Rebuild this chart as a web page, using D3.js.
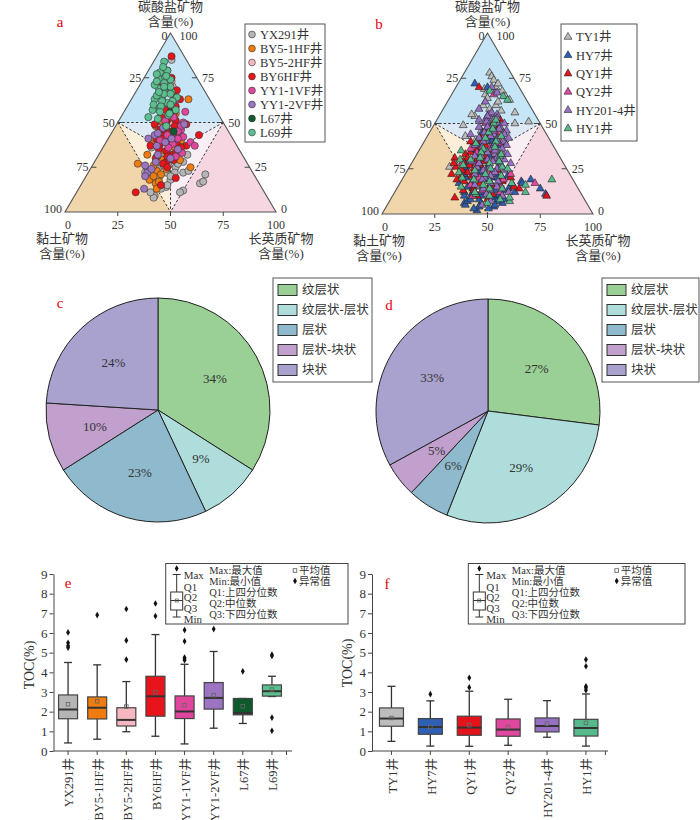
<!DOCTYPE html>
<html>
<head>
<meta charset="utf-8">
<script src="https://cdn.jsdelivr.net/npm/d3@7"></script>
<style>
  body { margin: 0; background: #fff; }
  svg { display: block; }
</style>
</head>
<body>
<svg width="700" height="820"></svg>
<script>
// ---- a: ternary, shale wells (values are [carbonate %, clay %], felsic = rest)
const wellsA = ['YX291井', 'BY5-1HF井', 'BY5-2HF井', 'BY6HF井', 'YY1-1VF井', 'YY1-2VF井', 'L67井', 'L69井'];
const ptsYX291 = [[85,7],[21,23],[16,28],[17,26],[9,53],[8,54],[11,54],[12,38],[11,40],[22,51],[19,46],[22,41],[25,35],[18,41],[22,33],[26,41],[36,41],[34,30],[32,26],[28,30],[14,45],[30,38],[40,33],[22,37],
  [29,35],[26,38],[24,44],[20,40],[15,44],[13,48],[27,33],[23,30]];
const ptsBY51HF = [[63,10],[27,52],[25,28],[16,49],[32,45],[23,45],[35,36],[47,26],[40,25],[49,30],[53,25],[40,38],[18,51],[29,39],[29,31],[44,32],[36,30],[21,44],[55,20],
  [51,29],[48,33],[45,30],[43,35],[38,40],[34,38],[31,41],[26,45],[24,40],[20,48],[17,47],[13,50]];
const ptsBY52HF = [[73,13],[46,27],[37,34],[47,32],[35,28],[70,14],[42,29],[50,24],[44,28],[39,34],[33,33]];
const ptsBY6HF = [[87,6],[68,13],[43,15],[11,61],[15,47],[61,19],[57,24],[63,14],[49,33],[43,33],[40,31],[44,24],[37,24],[35,38],[32,33],[37,41],[51,22],[53,28],[49,18],[28,38],[19,38],[71,19],[75,12],[46,29],[41,36],[38,28],[34,35],[55,21],[30,42],[59,18],[65,16],[47,22],
  [52,25],[50,27],[48,24],[46,32],[45,27],[44,29],[42,26],[41,33],[39,30],[38,36],[36,27],[33,31],[31,36],[29,34],[27,40],[25,39]];
const ptsYY11VF = [[63,16],[56,15],[39,21],[37,20],[46,22],[51,27],[40,28],[40,35],[67,17],[50,19],[44,27],[34,29],[58,20],[42,23],
  [53,22],[48,21],[45,24],[43,30],[41,26],[38,30],[36,33],[33,28],[31,32]];
const ptsYY12VF = [[79,12],[49,19],[26,49],[22,50],[13,56],[43,36],[41,29],[60,24],[35,29],[41,40],[48,28],[30,35],
  [47,30],[44,34],[39,33],[37,38],[32,40],[28,43],[24,47],[20,52]];
const ptsL67 = [[56,22],[45,26]];
const ptsL69 = [[84,11],[74,18],[75,15],[74,13],[69,21],[68,19],[67,16],[63,26],[64,22],[61,21],[64,15],[53,34],[58,26],[72,17],[65,24],[70,15],[57,19],[57,30],[54,24],[78,16],[79,12],[48,28],[66,20],[71,22],[60,28],[76,14],[62,18],
  [73,20],[70,18],[67,22],[66,17],[62,23],[60,20],[59,25],[56,27],[55,23],[52,30],[81,13],[77,18]];

// ---- b: ternary, second set of wells
const wellsB = ['TY1井', 'HY7井', 'QY1井', 'QY2井', 'HY201-4井', 'HY1井'];
const ptsTY1 = [[78,10],[76,10],[74,10],[69,17],[66,18],[70,11],[72,9],[68,9],[65,9],[63,8],[56,9],[54,29],[55,30],[49,37],[43,39],[51,5],[58,20],[60,16],[62,14],[57,15],[52,22],[47,26],[45,20],[40,30],[36,28],[33,35],[26,55],[28,38],[22,42],[15,40],[12,45],[50,12],[60,22],[64,18],
  [46,30],[41,35],[30,44],[20,46],[17,49]];
const ptsHY7 = [[72,20],[70,15],[19,20],[14,18],[11,17],[18,25],[17,25],[12,31],[6,58],[5,58],[2,54],[4,45],[6,40],[45,30],[40,35],[38,25],[35,40],[30,45],[28,30],[25,48],[22,35],[20,50],[18,44],[15,52],[12,55],[10,48],[8,50],[9,42],[13,36],[16,30],[25,40],[32,33],[42,27],[48,24],[3,48],[7,56],[20,38],
  [30,38],[28,42],[27,36],[26,47],[24,38],[23,42],[22,50],[21,30],[20,35],[19,40],[18,48],[17,55],[16,36],[15,45],[14,50],[13,40],[12,47],[11,52],[10,40],[10,56],[9,45],[8,54],[7,42],[6,50],[5,44],[4,52],[3,55],[8,38],[14,33],[35,32],[40,28],[45,25],[33,38],[38,35]];
const ptsQY1 = [[70,19],[31,50],[22,56],[9,61],[10,17],[44,30],[40,38],[35,30],[30,40],[27,45],[24,33],[21,47],[18,52],[16,40],[13,50],[11,42],[8,46],[26,52],[33,44],[38,32],[20,29],[14,28],[47,27],[52,18],[18,34],[29,37],
  [40,33],[36,37],[34,41],[31,44],[29,47],[27,40],[25,44],[23,48],[21,52],[19,55],[17,45],[15,49],[13,55],[12,44],[10,50],[24,50],[28,52],[32,35],[20,33],[15,30],[44,27],[48,22]];
const ptsQY2 = [[17,19],[66,14],[45,22],[37,30],[30,32],[25,37],[20,44],[15,36],[12,38],[22,28],[34,38],[42,24],[50,26],[10,52],[28,48],
  [48,25],[43,30],[39,25],[32,30],[27,42],[23,38],[19,33],[16,50],[13,46],[36,40]];
const ptsHY2014 = [[70,13],[67,12],[62,20],[58,25],[55,22],[52,28],[50,20],[48,30],[46,18],[44,25],[42,33],[40,22],[38,37],[36,30],[34,26],[32,40],[30,35],[28,25],[26,42],[24,30],[22,37],[20,41],[18,36],[14,45],[12,34],[10,38],[7,45],[5,50],[44,36],[38,28],[33,30],[29,43],[53,24],[48,20],[41,30],
  [56,20],[55,18],[54,23],[53,19],[52,21],[51,25],[50,17],[49,23],[48,26],[47,21],[46,24],[45,29],[44,20],[43,27],[42,19],[41,25],[40,32],[39,27],[38,22],[37,34],[36,25],[35,29],[34,33],[33,24],[32,37],[31,30],[30,27],[29,33],[28,40],[27,30],[26,36],[25,33],[24,40],[23,35],[22,45],[21,38],[19,43],[17,40],[16,48],[15,38],[13,42],[11,45]];
const ptsHY1 = [[65,10],[63,9],[19,10],[7,36],[68,15],[45,27],[40,26],[36,34],[32,28],[28,35],[24,44],[21,33],[19,47],[17,30],[14,42],[11,50],[9,35],[16,24],[26,30],[35,45],[50,22],[30,48],[6,47],[12,26],[23,52],
  [52,20],[47,24],[42,30],[39,36],[37,28],[34,36],[31,38],[29,30],[27,48],[25,36],[22,40],[20,52],[18,40],[16,44],[14,36],[12,50],[10,44],[8,40],[25,28],[33,27],[43,22],[30,43],[15,55]];

const ternTicks = [0, 25, 50, 75, 100];

// ---- c, d: pies
const facies = ['纹层状', '纹层状-层状', '层状', '层状-块状', '块状'];
const pieC = [34, 9, 23, 10, 24];
const pieD = [27, 29, 6, 5, 33];

// ---- e: TOC box plot
const boxWellsE = ['YX291井', 'BY5-1HF井', 'BY5-2HF井', 'BY6HF井', 'YY1-1VF井', 'YY1-2VF井', 'L67井', 'L69井'];
const minE = [0.41, 0.6, 0.98, 0.75, 0.36, 1.16, 1.4, 2.77];
const q1E = [1.64, 1.63, 1.27, 1.77, 1.65, 2.13, 1.84, 2.79];
const medE = [2.11, 2.2, 1.58, 2.78, 2.01, 2.7, 1.93, 3.04];
const q3E = [2.85, 2.75, 2.2, 3.8, 2.8, 3.48, 2.67, 3.36];
const maxE = [4.5, 4.38, 3.53, 5.92, 4.41, 5.06, 2.67, 3.8];
const meanE = [2.38, 2.53, 2.26, 2.98, 2.33, 2.84, 2.27, 3.12];
const outE = [[6.03, 5.5, 5.35, 5.26], [6.91], [7.22, 5.62, 4.65], [7.5, 6.86], [6.15, 5.58, 4.75, 4.68, 4.62], [6.2], [4.05], [4.9, 4.83, 1.7, 1.03]];

// ---- f: TOC box plot
const boxWellsF = ['TY1井', 'HY7井', 'QY1井', 'QY2井', 'HY201-4井', 'HY1井'];
const minF = [0.49, 0.25, 0.24, 0.29, 0.7, 0.25];
const q1F = [1.26, 0.85, 0.8, 0.75, 0.97, 0.76];
const medF = [1.65, 1.22, 1.19, 1.09, 1.27, 1.17];
const q3F = [2.19, 1.65, 1.77, 1.63, 1.68, 1.61];
const maxF = [3.29, 2.55, 3.04, 2.63, 2.56, 2.9];
const meanF = [1.68, 1.22, 1.31, 1.22, 1.39, 1.43];
const outF = [[], [2.89], [3.72, 3.23], [], [], [4.65, 4.31, 3.29, 3.21, 3.09]];
const tocTicks = [0, 1, 2, 3, 4, 5, 6, 7, 8, 9];

// colours
const colorsA = ['#b5b5b5', '#f07c0f', '#f6b7c0', '#e8141c', '#e0479c', '#9b74c2', '#0f5a2c', '#5cbf90'];
const colorsB = ['#bdbdbd', '#2f5fb3', '#e3121b', '#e0479e', '#9770c4', '#55b98b'];
const pieColors = ['#9ad096', '#aedddc', '#8fb9cc', '#c1a0cd', '#a9a2cf'];

const FONT = '"Liberation Serif", "Noto Sans CJK SC", serif';
const TXT = '#333';
const svg = d3.select('svg').style('font-family', FONT);

function label(g, x, y, text, size, anchor, color) {
  return g.append('text')
    .attr('x', x).attr('y', y).attr('dy', '0.35em')
    .attr('text-anchor', anchor || 'middle')
    .attr('font-size', size)
    .attr('fill', color || TXT)
    .text(text);
}

function drawTernary(geo, series, colors, names, marker, leg) {
  const g = svg.append('g');
  const xs = d3.scaleLinear().domain([-100, 100]).range([geo.lx, geo.rx]);
  const ys = d3.scaleLinear().domain([100, 0]).range([geo.ay, geo.by]);
  // carb, clay -> pixel
  const pt = (carb, clay) => [xs((100 - carb - clay) - clay), ys(carb)];

  const A = pt(100, 0), BL = pt(0, 100), BR = pt(0, 0);
  const L = pt(50, 50), R = pt(50, 0), B = pt(0, 50), C = pt(100 / 3, 100 / 3);
  const regions = [
    { p: [A, L, R], fill: '#c6e6f7' },
    { p: [L, R, C], fill: '#dde9f5' },
    { p: [L, C, B], fill: '#fcefd9' },
    { p: [R, C, B], fill: '#f8eef3' },
    { p: [L, BL, B], fill: '#f1d6ab' },
    { p: [R, B, BR], fill: '#f6d6e0' }
  ];
  g.selectAll('.region').data(regions).enter().append('polygon')
    .attr('points', d => d.p.map(q => q.join(',')).join(' '))
    .attr('fill', d => d.fill);

  // dashed class boundaries
  g.selectAll('.dash').data([[L, R], [L, B], [R, B], [L, C], [R, C], [C, B]]).enter().append('line')
    .attr('x1', d => d[0][0]).attr('y1', d => d[0][1])
    .attr('x2', d => d[1][0]).attr('y2', d => d[1][1])
    .attr('stroke', '#222').attr('stroke-width', 0.9).attr('stroke-dasharray', '2.5,2');

  g.append('polygon')
    .attr('points', [A, BL, BR].map(q => q.join(',')).join(' '))
    .attr('fill', 'none').attr('stroke', '#555').attr('stroke-width', 1.1);

  // ticks and tick labels
  ternTicks.forEach(v => {
    const l = pt(100 - v, v), r = pt(v, 0), b = pt(0, 100 - v);
    if (v > 0 && v < 100) {
      g.append('line').attr('x1', l[0]).attr('y1', l[1]).attr('x2', l[0] + 5).attr('y2', l[1]).attr('stroke', '#444');
      g.append('line').attr('x1', r[0] - 5).attr('y1', r[1]).attr('x2', r[0]).attr('y2', r[1]).attr('stroke', '#444');
      g.append('line').attr('x1', b[0]).attr('y1', b[1]).attr('x2', b[0]).attr('y2', b[1] + 4).attr('stroke', '#444');
    }
    const dyL = v === 0 ? 3 : (v === 100 ? -3 : 0);
    const dyR = v === 100 ? 3 : (v === 0 ? -3 : 0);
    label(g, l[0] - 3, l[1] + dyL, v, 12, 'end');
    label(g, r[0] + 5 + (v === 100 ? 4 : 0), r[1] + dyR, v, 12, 'start');
    label(g, b[0] + (v === 0 ? 3 : 0), b[1] + 13, v, 12, 'middle');
  });

  // axis titles
  label(g, A[0], geo.ay - 27, '碳酸盐矿物', 13);
  label(g, A[0], geo.ay - 12, '含量(%)', 13);
  label(g, BL[0] - 3, geo.by + 26, '黏土矿物', 13);
  label(g, BL[0] - 3, geo.by + 41, '含量(%)', 13);
  label(g, BR[0] + 5, geo.by + 26, '长英质矿物', 13);
  label(g, BR[0] + 5, geo.by + 41, '含量(%)', 13);

  // samples
  const sym = d3.symbol().type(d3.symbolTriangle).size(27);
  series.forEach((pts, i) => {
    const sel = g.append('g').selectAll('.pt').data(pts).enter();
    if (marker === 'circle') {
      sel.append('circle')
        .attr('cx', d => pt(d[0], d[1])[0]).attr('cy', d => pt(d[0], d[1])[1])
        .attr('r', 3.6).attr('fill', colors[i])
        .attr('stroke', '#333').attr('stroke-width', 0.6);
    } else {
      sel.append('path').attr('d', sym)
        .attr('transform', d => `translate(${pt(d[0], d[1])})`)
        .attr('fill', colors[i])
        .attr('stroke', '#222').attr('stroke-width', 0.6);
    }
  });

  // legend
  const lg = g.append('g');
  lg.append('rect').attr('x', leg.x).attr('y', leg.y).attr('width', leg.w).attr('height', leg.h)
    .attr('fill', '#fff').attr('stroke', '#555').attr('stroke-width', 1);
  names.forEach((n, i) => {
    const cy = leg.y0 + i * leg.step;
    if (marker === 'circle') {
      lg.append('circle').attr('cx', leg.x + 7).attr('cy', cy).attr('r', 3.4)
        .attr('fill', colors[i]).attr('stroke', '#333').attr('stroke-width', 0.6);
    } else {
      lg.append('path').attr('d', sym).attr('transform', `translate(${leg.x + 7},${cy})`)
        .attr('fill', colors[i]).attr('stroke', '#222').attr('stroke-width', 0.6);
    }
    label(lg, leg.x + 15, cy, n, 12.5, 'start');
  });
}

function drawPie(cx, cy, values, leg) {
  const g = svg.append('g').attr('transform', `translate(${cx},${cy})`);
  const pie = d3.pie().sort(null).value(d => d);
  const arc = d3.arc().innerRadius(0).outerRadius(112);
  const labelArc = d3.arc().innerRadius(65).outerRadius(65);
  const arcs = pie(values);
  g.selectAll('path').data(arcs).enter().append('path')
    .attr('d', arc)
    .attr('fill', (d, i) => pieColors[i])
    .attr('stroke', '#222').attr('stroke-width', 1);
  g.selectAll('.pl').data(arcs).enter().append('text')
    .attr('transform', d => `translate(${labelArc.centroid(d)})`)
    .attr('dy', '0.35em').attr('text-anchor', 'middle')
    .attr('font-size', 13).attr('fill', TXT)
    .text(d => d.data + '%');

  const lg = svg.append('g');
  lg.append('rect').attr('x', leg.x).attr('y', 278).attr('width', leg.w).attr('height', 104)
    .attr('fill', '#fff').attr('stroke', '#555');
  facies.forEach((f, i) => {
    const y = 290 + i * 20;
    lg.append('rect').attr('x', leg.x + 5).attr('y', y - 5.5).attr('width', 19).attr('height', 11)
      .attr('fill', pieColors[i]).attr('stroke', '#333').attr('stroke-width', 1);
    label(lg, leg.x + 29, y, f, 12.5, 'start');
  });
}

function drawBoxes(p) {
  const g = svg.append('g');
  const y = d3.scaleLinear().domain([0, 9]).range([751, 574]);
  const x = d3.scaleBand().domain(p.wells).range([p.x0, p.x1]);

  // y axis
  const ya = g.append('g').attr('transform', `translate(${p.x0},0)`)
    .call(d3.axisLeft(y).tickValues(tocTicks).tickSize(4).tickSizeOuter(0).tickPadding(2));
  ya.selectAll('text').attr('font-size', 13).attr('fill', TXT).style('font-family', FONT);
  ya.selectAll('line, path').attr('stroke', '#444');

  // x axis
  g.append('line').attr('x1', p.x0).attr('x2', p.axisEnd).attr('y1', 751).attr('y2', 751).attr('stroke', '#444');
  const xa = g.append('g').attr('transform', 'translate(0,751)')
    .call(d3.axisBottom(x).tickSize(4).tickFormat(''));
  xa.select('.domain').remove();
  xa.selectAll('line').attr('stroke', '#444');
  g.append('line').attr('x1', p.x1).attr('x2', p.x1).attr('y1', 751).attr('y2', 755).attr('stroke', '#444');
  p.wells.forEach(w => {
    g.append('text')
      .attr('transform', `translate(${x(w) + x.bandwidth() / 2 + 1},758) rotate(-90)`)
      .attr('dy', '0.35em').attr('text-anchor', 'end')
      .attr('font-size', 12.5).attr('fill', TXT).text(w);
  });

  g.append('text').attr('transform', `translate(${p.x0 - 20},${p.labelY}) rotate(-90)`)
    .attr('text-anchor', 'middle').attr('font-size', 14).attr('fill', TXT).text('TOC(%)');

  const dia = d3.symbol().type(d3.symbolDiamond).size(13);
  p.wells.forEach((w, i) => {
    const cx = x(w) + x.bandwidth() / 2;
    const hw = p.boxW / 2;
    // whiskers
    g.append('line').attr('x1', cx).attr('x2', cx).attr('y1', y(p.max[i])).attr('y2', y(p.q3[i])).attr('stroke', '#333').attr('stroke-width', 1.3);
    g.append('line').attr('x1', cx).attr('x2', cx).attr('y1', y(p.q1[i])).attr('y2', y(p.min[i])).attr('stroke', '#333').attr('stroke-width', 1.3);
    [p.max[i], p.min[i]].forEach(v => {
      g.append('line').attr('x1', cx - 4).attr('x2', cx + 4).attr('y1', y(v)).attr('y2', y(v)).attr('stroke', '#333').attr('stroke-width', 1.3);
    });
    g.append('rect').attr('x', cx - hw).attr('y', y(p.q3[i])).attr('width', p.boxW)
      .attr('height', y(p.q1[i]) - y(p.q3[i]))
      .attr('fill', p.colors[i]).attr('stroke', '#444').attr('stroke-width', 1.2);
    g.append('line').attr('x1', cx - hw).attr('x2', cx + hw).attr('y1', y(p.med[i])).attr('y2', y(p.med[i]))
      .attr('stroke', '#333').attr('stroke-width', 2);
    g.append('rect').attr('x', cx - 1.8).attr('y', y(p.mean[i]) - 1.8).attr('width', 3.6).attr('height', 3.6)
      .attr('fill', 'none').attr('stroke', '#666').attr('stroke-width', 0.8);
    p.out[i].forEach(v => {
      g.append('path').attr('d', dia).attr('transform', `translate(${cx},${y(v)})`).attr('fill', '#111');
    });
  });

  // legend
  const L = p.leg;
  const lg = svg.append('g');
  lg.append('rect').attr('x', L.x).attr('y', 563.5).attr('width', L.w).attr('height', 60.5)
    .attr('fill', '#fff').attr('stroke', '#444').attr('stroke-width', 1);
  const ix = L.x + 11;
  lg.append('path').attr('d', dia).attr('transform', `translate(${ix},568.5)`).attr('fill', '#111');
  lg.append('line').attr('x1', ix).attr('x2', ix).attr('y1', 574.5).attr('y2', 617).attr('stroke', '#333');
  [574.5, 617].forEach(v => lg.append('line').attr('x1', ix - 4).attr('x2', ix + 4).attr('y1', v).attr('y2', v).attr('stroke', '#333'));
  lg.append('rect').attr('x', ix - 6).attr('y', 592).attr('width', 12).attr('height', 18).attr('fill', '#fff').attr('stroke', '#333');
  lg.append('line').attr('x1', ix - 6).attr('x2', ix + 6).attr('y1', 600.5).attr('y2', 600.5).attr('stroke', '#333');
  lg.append('rect').attr('x', ix - 1.5).attr('y', 599).attr('width', 3).attr('height', 3).attr('fill', 'none').attr('stroke', '#555').attr('stroke-width', 0.7);
  [['Max', 575.5], ['Q1', 587], ['Q2', 597.5], ['Q3', 608], ['Min', 619.5]].forEach(t => label(lg, L.x + 18, t[1], t[0], 11, 'start'));
  [['Max:最大值', 570.5], ['Min:最小值', 581], ['Q1:上四分位数', 592], ['Q2:中位数', 603], ['Q3:下四分位数', 614]]
    .forEach(t => label(lg, L.x + 43.5, t[1], t[0], 10.5, 'start'));
  lg.append('rect').attr('x', L.mx - 1.8).attr('y', 568.7).attr('width', 3.6).attr('height', 3.6).attr('fill', 'none').attr('stroke', '#555').attr('stroke-width', 0.8);
  label(lg, L.mx + 4, 570.5, '平均值', 10.5, 'start');
  lg.append('path').attr('d', dia).attr('transform', `translate(${L.mx},581)`).attr('fill', '#111');
  label(lg, L.mx + 4, 581, '异常值', 10.5, 'start');
}

drawTernary({ ay: 33, by: 212, lx: 65, rx: 276 },
  [ptsYX291, ptsBY51HF, ptsBY52HF, ptsBY6HF, ptsYY11VF, ptsYY12VF, ptsL67, ptsL69],
  colorsA, wellsA, 'circle', { x: 245, y: 24, w: 80, h: 118, y0: 34.5, step: 14 });

drawTernary({ ay: 33, by: 214, lx: 382, rx: 593 },
  [ptsTY1, ptsHY7, ptsQY1, ptsQY2, ptsHY2014, ptsHY1],
  colorsB, wellsB, 'triangle', { x: 561, y: 24, w: 76, h: 117, y0: 37, step: 18.3 });

drawPie(158, 410, pieC, { x: 273, w: 99 });
drawPie(488, 411, pieD, { x: 602, w: 97 });

drawBoxes({ wells: boxWellsE, min: minE, q1: q1E, med: medE, q3: q3E, max: maxE, mean: meanE, out: outE,
  colors: colorsA, x0: 53.5, x1: 286.5, axisEnd: 292, boxW: 19, labelY: 665,
  leg: { x: 165.7, w: 182.3, mx: 295 } });
drawBoxes({ wells: boxWellsF, min: minF, q1: q1F, med: medF, q3: q3F, max: maxF, mean: meanF, out: outF,
  colors: colorsB, x0: 372, x1: 605.4, axisEnd: 608, boxW: 24, labelY: 663,
  leg: { x: 468.3, w: 216.7, mx: 616.7 } });

// panel letters
[['a', 60, 22], ['b', 379, 24], ['c', 60, 303], ['d', 389, 305], ['e', 68, 583], ['f', 387, 584]]
  .forEach(t => label(svg, t[1], t[2], t[0], 15, 'middle', '#e8000b'));
</script>
</body>
</html>
